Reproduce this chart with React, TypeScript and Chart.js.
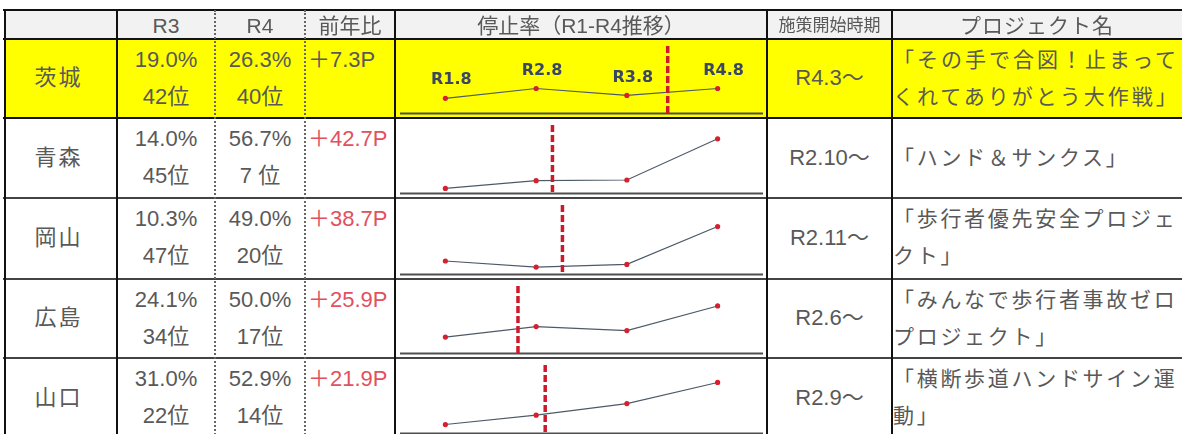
import React, { useEffect, useRef } from "react";
import { Chart, registerables } from "chart.js";

Chart.register(...registerables);

// ---- data ----
const prefectures = ["茨城", "青森", "岡山", "広島", "山口"];
const stopRateR1 = [16.0, 5.3, 13.8, 17.3, 9.3];
const stopRateR2 = [26.3, 13.3, 7.6, 28.3, 19.0];
const stopRateR3 = [19.0, 14.0, 10.3, 24.1, 31.0];
const stopRateR4 = [26.3, 56.7, 49.0, 50.0, 52.9];
const rankR3 = [42, 45, 47, 34, 22];
const rankR4 = [40, 7, 20, 17, 14];
const surveyLabels = ["R1.8", "R2.8", "R3.8", "R4.8"];
const startLabels = ["R4.3～", "R2.10～", "R2.11～", "R2.6～", "R2.9～"];
// campaign start, on the survey axis (0 = R1.8 … 3 = R4.8)
const startOnAxis = [2.45, 1.18, 1.29, 0.8, 1.1];
const projectLines = [
  ["「その手で合図！止まって", "くれてありがとう大作戦」"],
  ["「ハンド＆サンクス」"],
  ["「歩行者優先安全プロジェ", "クト」"],
  ["「みんなで歩行者事故ゼロ", "プロジェクト」"],
  ["「横断歩道ハンドサイン運", "動」"],
];
const headerLabels = ["", "R3", "R4", "前年比", "停止率（R1-R4推移）", "施策開始時期", "プロジェクト名"];

// ---- layout ----
const COLS = [4, 117, 215, 305, 395, 767, 892, 1182];
const ROWS = [10, 39, 118, 198, 279, 358, 438];
const LINE1 = 21;
const LINE2 = 58;
const FONT = "'Liberation Sans', 'Noto Sans CJK JP', sans-serif";
const TEXT = "#595959";
const RED = "#e2505f";
const Y_MAX = 71;

const baselinePlugin = {
  id: "baseline",
  beforeDatasetsDraw(chart: any) {
    const { ctx, chartArea: a } = chart;
    ctx.save();
    ctx.strokeStyle = "#4f4f4f";
    ctx.lineWidth = 2;
    ctx.beginPath();
    ctx.moveTo(a.left, a.bottom);
    ctx.lineTo(a.right, a.bottom);
    ctx.stroke();
    ctx.restore();
  },
};

const startLinePlugin = {
  id: "startLine",
  afterDatasetsDraw(chart: any, _args: any, opts: any) {
    const { ctx, chartArea: a, scales } = chart;
    const x = scales.x.getPixelForValue(opts.at);
    ctx.save();
    ctx.strokeStyle = "#cc1a2a";
    ctx.lineWidth = 3.5;
    ctx.setLineDash([7, 3]);
    ctx.beginPath();
    ctx.moveTo(x, a.top);
    ctx.lineTo(x, a.bottom);
    ctx.stroke();
    ctx.restore();
  },
};

const pointLabelPlugin = {
  id: "pointLabels",
  afterDatasetsDraw(chart: any, _args: any, opts: any) {
    if (!opts.show) return;
    const { ctx } = chart;
    const meta = chart.getDatasetMeta(0);
    ctx.save();
    ctx.font = "bold 16px 'DejaVu Sans', sans-serif";
    ctx.fillStyle = "#3a4763";
    ctx.textAlign = "center";
    ctx.textBaseline = "middle";
    meta.data.forEach((pt: any, i: number) => {
      ctx.fillText(surveyLabels[i], pt.x + 6, pt.y - 18);
    });
    ctx.restore();
  },
};

function Sparkline({ row }: { row: number }) {
  const ref = useRef<HTMLCanvasElement>(null);
  useEffect(() => {
    const values = [stopRateR1[row], stopRateR2[row], stopRateR3[row], stopRateR4[row]];
    const chart = new Chart(ref.current as HTMLCanvasElement, {
      type: "line",
      data: {
        labels: surveyLabels,
        datasets: [
          {
            data: values.map((y, i) => ({ x: i, y })),
            borderColor: "#4d5a68",
            borderWidth: 1.2,
            pointRadius: 2.6,
            pointBackgroundColor: "#d4202f",
            pointBorderWidth: 0,
            tension: 0,
          },
        ],
      },
      options: {
        animation: false,
        responsive: true,
        maintainAspectRatio: false,
        layout: { padding: { left: 4, right: 2, top: 7, bottom: 4.5 } },
        scales: {
          x: { type: "linear", min: -0.5, max: 3.5, display: false },
          y: { min: 0, max: Y_MAX, display: false },
        },
        plugins: {
          legend: { display: false },
          tooltip: { enabled: false },
          startLine: { at: startOnAxis[row] },
          pointLabels: { show: row === 0 },
        } as any,
      },
      plugins: [baselinePlugin, startLinePlugin, pointLabelPlugin],
    });
    return () => chart.destroy();
  }, [row]);
  const top = ROWS[row + 1];
  const h = ROWS[row + 2] - top;
  return (
    <div style={{ position: "absolute", left: COLS[4] + 1, top, width: COLS[5] - COLS[4] - 1, height: h }}>
      <canvas ref={ref} />
    </div>
  );
}

function Txt(props: {
  x: number;
  y: number;
  w?: number;
  align?: "left" | "center";
  size: number;
  color?: string;
  spacing?: number;
  children: React.ReactNode;
}) {
  const { x, y, w = 0, align = "center", size, color = TEXT, spacing = 0 } = props;
  const lh = size * 1.4;
  return (
    <div
      style={{
        position: "absolute",
        left: align === "center" ? x - w / 2 : x,
        width: align === "center" ? w : undefined,
        top: y - lh / 2,
        height: lh,
        lineHeight: `${lh}px`,
        fontSize: size,
        fontFamily: FONT,
        color,
        letterSpacing: spacing,
        textAlign: align,
        whiteSpace: "nowrap",
      }}
    >
      {props.children}
    </div>
  );
}

function HLine({ y, t = 2, color = "#111" }: { y: number; t?: number; color?: string }) {
  return (
    <div
      style={{ position: "absolute", left: COLS[0] - 1, width: COLS[7] - COLS[0] + 1, top: y - t / 2, height: t, background: color }}
    />
  );
}

function VLine({ x, t = 2, dotted = false, color = "#111" }: { x: number; t?: number; dotted?: boolean; color?: string }) {
  return (
    <div
      style={{
        position: "absolute",
        left: x - t / 2,
        top: ROWS[0],
        height: ROWS[6] - ROWS[0],
        width: dotted ? 0 : t,
        background: dotted ? undefined : color,
        borderLeft: dotted ? `${t}px dotted #666` : undefined,
      }}
    />
  );
}

export default function App() {
  const mid = (i: number) => (COLS[i] + COLS[i + 1]) / 2;
  const wid = (i: number) => COLS[i + 1] - COLS[i];
  return (
    <div style={{ position: "absolute", left: 0, top: 0, width: 1182, height: 434, overflow: "hidden", background: "#fff" }}>
      {/* backgrounds */}
      <div style={{ position: "absolute", left: COLS[0], top: ROWS[0], width: COLS[7] - COLS[0], height: ROWS[1] - ROWS[0], background: "#f2f2f2" }} />
      <div style={{ position: "absolute", left: COLS[0], top: ROWS[1], width: COLS[7] - COLS[0], height: ROWS[2] - ROWS[1], background: "#ffff00" }} />

      {/* trend charts */}
      {prefectures.map((_, r) => (
        <Sparkline key={r} row={r} />
      ))}

      {/* header */}
      {headerLabels.map((h, c) =>
        h ? (
          <Txt key={c} x={mid(c)} y={(ROWS[0] + ROWS[1]) / 2 + 1} w={wid(c)} size={c === 5 ? 17 : 21} spacing={c === 6 ? 1 : 0}>
            {h}
          </Txt>
        ) : null
      )}

      {/* body */}
      {prefectures.map((p, r) => {
        const top = ROWS[r + 1];
        const cy = (top + ROWS[r + 2]) / 2;
        const diff = (stopRateR4[r] - stopRateR3[r]).toFixed(1);
        const rank = (n: number) => (n < 10 ? `${n} 位` : `${n}位`);
        const lines = projectLines[r];
        return (
          <React.Fragment key={p}>
            <Txt x={mid(0) - 2} y={cy} w={wid(0)} size={22} spacing={2}>
              {p}
            </Txt>
            <Txt x={mid(1)} y={top + LINE1} w={wid(1)} size={22}>
              {stopRateR3[r].toFixed(1)}%
            </Txt>
            <Txt x={mid(1)} y={top + LINE2} w={wid(1)} size={22}>
              {rank(rankR3[r])}
            </Txt>
            <Txt x={mid(2)} y={top + LINE1} w={wid(2)} size={22}>
              {stopRateR4[r].toFixed(1)}%
            </Txt>
            <Txt x={mid(2)} y={top + LINE2} w={wid(2)} size={22}>
              {rank(rankR4[r])}
            </Txt>
            <Txt x={COLS[3] + 3} y={top + LINE1} align="left" size={22} color={r === 0 ? TEXT : RED}>
              {`＋${diff}P`}
            </Txt>
            <Txt x={mid(5)} y={cy} w={wid(5)} size={22}>
              {startLabels[r]}
            </Txt>
            {lines.map((line, k) => (
              <Txt
                key={k}
                x={COLS[6] + 1}
                y={lines.length === 1 ? cy : top + (k === 0 ? LINE1 : LINE2)}
                align="left"
                size={21}
                spacing={r === 0 ? 3 : 2.7}
              >
                {line}
              </Txt>
            ))}
          </React.Fragment>
        );
      })}

      {/* grid lines */}
      <HLine y={ROWS[0]} />
      <HLine y={ROWS[1]} />
      <HLine y={ROWS[2]} />
      <HLine y={ROWS[3]} color="#444" />
      <HLine y={ROWS[4]} color="#444" />
      <HLine y={ROWS[5]} color="#444" />
      <VLine x={COLS[0] + 1} />
      <VLine x={COLS[1]} />
      <VLine x={COLS[2]} dotted />
      <VLine x={COLS[3]} dotted />
      <VLine x={COLS[4]} t={1.5} />
      <VLine x={COLS[5]} />
      <VLine x={COLS[6]} />
    </div>
  );
}
